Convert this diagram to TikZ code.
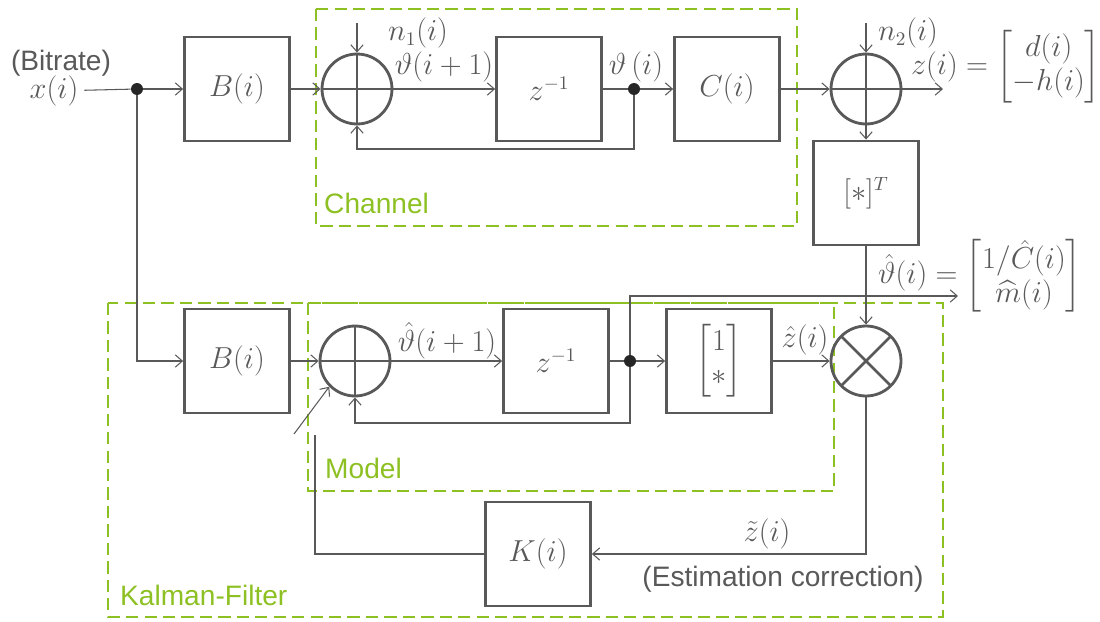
\documentclass[tikz,border=0pt]{standalone}
\usepackage[no-math]{fontspec}
\setmainfont{Liberation Sans}
\usepackage{amsmath}
\usetikzlibrary{arrows.meta}
\definecolor{linegray}{RGB}{89,89,89}
\definecolor{kfgreen}{RGB}{141,192,34}

\begin{document}
\begin{tikzpicture}[x=0.02cm, y=-0.02cm, >={Straight Barb[length=4pt,width=7pt]},
    every node/.style={font=\fontsize{16}{19}\selectfont, text=linegray},
    block/.style={draw=linegray, line width=1.6pt, minimum width=2.1cm, minimum height=2.08cm, inner sep=0pt},
    sumnode/.style={circle, draw=linegray, line width=1.6pt, minimum size=1.4cm, inner sep=0pt,
      path picture={\draw[linegray, line width=1.6pt] (path picture bounding box.north) -- (path picture bounding box.south)
        (path picture bounding box.west) -- (path picture bounding box.east);}},
    multnode/.style={circle, draw=linegray, line width=1.6pt, minimum size=1.4cm, inner sep=0pt,
      path picture={\draw[linegray, line width=1.6pt] (path picture bounding box.north west) -- (path picture bounding box.south east)
        (path picture bounding box.south west) -- (path picture bounding box.north east);}},
    dot/.style={circle, fill=black!85, minimum size=0.24cm, inner sep=0pt},
    sig/.style={draw=linegray, line width=0.6pt},
    frame/.style={draw=kfgreen, line width=1.4pt, dash pattern=on 7pt off 3.5pt},
    framelabel/.style={anchor=west, text=kfgreen}]
    \useasboundingbox (0,0) rectangle (1100,622);

    % frames
    \draw[frame] (316,9) rectangle (797,226);
    \draw[frame] (108,303) rectangle (943,617);
    \draw[frame] (308,303) rectangle (834,491);
    \node[framelabel] (lchannel) at (318,203) {Channel};
    \node[framelabel] (lkalman) at (114,595) {Kalman-Filter};
    \node[framelabel] (lmodel) at (319,468) {Model};

    % channel
    \node (lbitrate) at (61,63) {(Bitrate)};
    \node (xin) at (54,91) {$x(i)$};
    \node[dot] (split1) at (137,89) {};
    \node[block] (b1) at (237,89) {$B(i)$};
    \node[sumnode] (s1) at (357,89) {};
    \coordinate (n1) at (357,23);
    \node (ln1) at (418,33) {$n_1(i)$};
    \node[block] (z1) at (549,89) {$z^{-1}$};
    \node (lth1) at (444,67) {$\vartheta(i+1)$};
    \node[dot] (split2) at (634,89) {};
    \node (lth) at (636,67) {$\vartheta\,(i)$};
    \node[block] (c) at (727,89) {$C(i)$};
    \node[sumnode] (s2) at (866,89) {};
    \coordinate (n2) at (866,23);
    \node (ln2) at (908,33) {$n_2(i)$};
    \coordinate (zout) at (943,89);
    \node (lz) at (1006,67) {$z(i)=\begin{bmatrix}d(i)\\-h(i)\end{bmatrix}$};
    \node[block] (st) at (866,193) {$[*]^T$};

    \draw[sig] (xin) -- (split1);
    \draw[sig,->] (split1) -- (b1);
    \draw[sig,->] (b1) -- (s1);
    \draw[sig,->] (n1) -- (s1);
    \draw[sig,->] (s1) -- (z1);
    \draw[sig] (z1) -- (split2);
    \draw[sig,->] (split2) -- (c);
    \draw[sig,->] (split2) -- ++(0,60) -| (s1.south);
    \draw[sig,->] (c) -- (s2);
    \draw[sig,->] (n2) -- (s2);
    \draw[sig,->] (s2) -- (zout);
    \draw[sig,->] (s2) -- (st);

    % kalman filter
    \node[block] (b2) at (237,361) {$B(i)$};
    \node[sumnode] (s3) at (355,361) {};
    \node[block] (z2) at (556,361) {$z^{-1}$};
    \node (lth2) at (447,341) {$\hat{\vartheta}(i+1)$};
    \node[dot] (split3) at (630,361) {};
    \node[block] (ob) at (719,361) {$\begin{bmatrix}1\\ *\end{bmatrix}$};
    \node[multnode] (m) at (866,361) {};
    \node (lzh) at (805,340) {$\hat{z}(i)$};
    \coordinate (thout) at (958,296);
    \node (lthout) at (980,276) {$\hat{\vartheta}(i)=\begin{bmatrix}1/\hat{C}(i)\\ \widehat{m}(i)\end{bmatrix}$};
    \node[block] (k) at (538,554) {$K(i)$};
    \node (lzt) at (767,534) {$\tilde{z}(i)$};
    \node (lcorr) at (783,579) {(Estimation correction)};
    \coordinate (kend) at (315,435);
    \coordinate (kin) at (294,434);

    \draw[sig,->] (split1) |- (b2);
    \draw[sig,->] (b2) -- (s3);
    \draw[sig,->] (s3) -- (z2);
    \draw[sig] (z2) -- (split3);
    \draw[sig,->] (split3) -- (ob);
    \draw[sig,->] (split3) -- ++(0,62) -| (s3.south);
    \draw[sig,->] (split3) |- (thout);
    \draw[sig,->] (ob) -- (m);
    \draw[sig,->] (st) -- (m);
    \draw[sig,->] (m) |- (k);
    \draw[sig] (k) -| (kend);
    \draw[sig,->] (kin) -- (s3.225);
  \end{tikzpicture}
\end{document}
